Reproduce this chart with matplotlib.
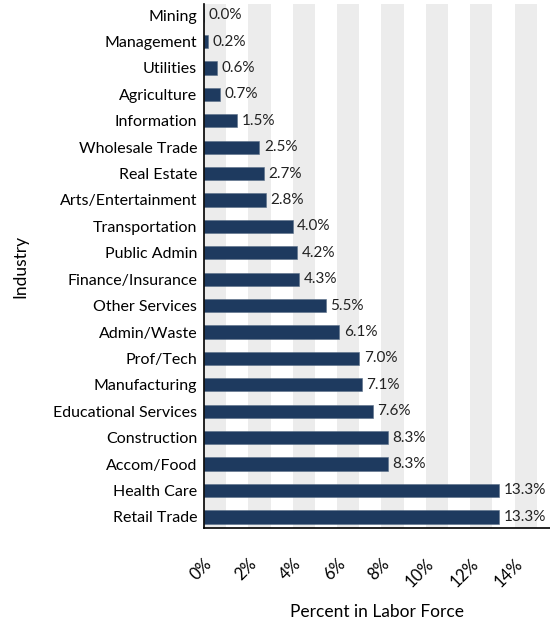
import matplotlib.pyplot as plt
import numpy as np

plt.rcParams['font.family'] = ['Lato', 'DejaVu Sans']

industries = ['Mining', 'Management', 'Utilities', 'Agriculture', 'Information',
              'Wholesale Trade', 'Real Estate', 'Arts/Entertainment', 'Transportation',
              'Public Admin', 'Finance/Insurance', 'Other Services', 'Admin/Waste',
              'Prof/Tech', 'Manufacturing', 'Educational Services', 'Construction',
              'Accom/Food', 'Health Care', 'Retail Trade']
pct = [0.0, 0.2, 0.6, 0.7, 1.5, 2.5, 2.7, 2.8, 4.0, 4.2, 4.3, 5.5, 6.1,
       7.0, 7.1, 7.6, 8.3, 8.3, 13.3, 13.3]
xticks = [0, 2, 4, 6, 8, 10, 12, 14]

fig = plt.figure(figsize=(5.5, 6.23), dpi=100)
ax = fig.add_axes([0.371, 0.1525, 0.629, 0.841])

# alternating grey stripes behind the bars
for x in np.arange(0, 16, 2):
    ax.axvspan(x, x + 1, color='#ececec', lw=0, zorder=0)

y = np.arange(len(industries))
ax.barh(y, pct, height=0.5, color='#1e3a5f', edgecolor='#5a6f88', lw=0.4, zorder=2)
for yi, v in zip(y, pct):
    ax.text(v + 0.2, yi, '%.1f%%' % v, va='center', ha='left', fontsize=11,
            color='#222222', zorder=3)

ax.set_ylim(len(industries) - 0.58, -0.42)
ax.set_xlim(0, 15.6)
ax.set_yticks(y)
ax.set_yticklabels(industries, fontsize=11.5)
ax.set_xticks(xticks)
ax.set_xticklabels(['%d%%' % t for t in xticks], fontsize=12, rotation=45,
                   ha='right', va='top', rotation_mode='anchor')
ax.tick_params(axis='x', length=0, pad=20)
ax.tick_params(axis='y', length=0, pad=5)

for side in ['top', 'right']:
    ax.spines[side].set_visible(False)
for side in ['left', 'bottom']:
    ax.spines[side].set_color('black')
    ax.spines[side].set_linewidth(1.2)

ax.set_xlabel('Percent in Labor Force', fontsize=12.5, labelpad=10)
ax.set_ylabel('Industry', fontsize=12.5, labelpad=18)

fig.savefig('out.png', dpi=100)
